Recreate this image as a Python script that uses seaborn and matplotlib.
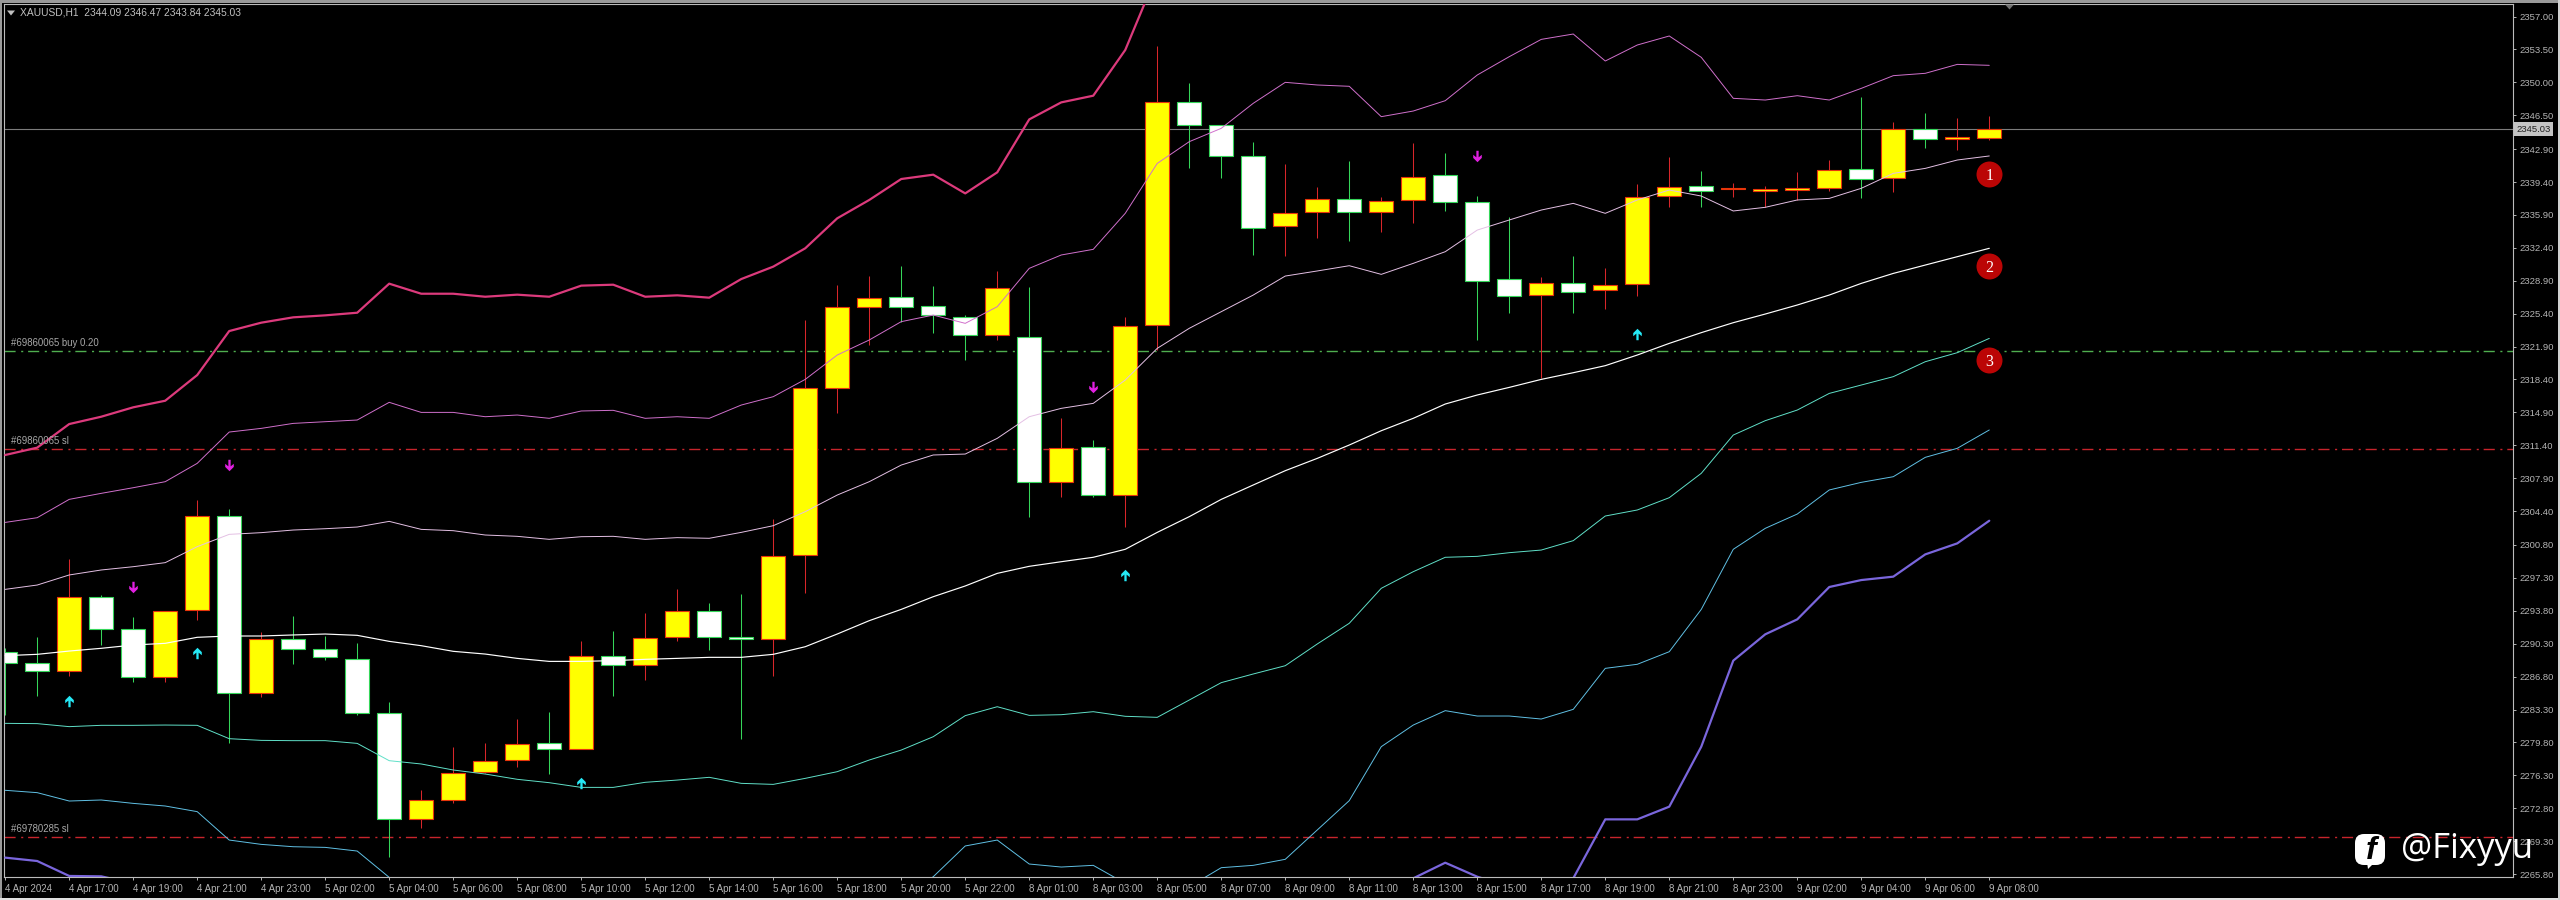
import numpy as np
import pandas as pd
import matplotlib
matplotlib.use("Agg")
import matplotlib.pyplot as plt
from matplotlib.patches import FancyBboxPatch, Rectangle, Polygon
from matplotlib.path import Path
from matplotlib.transforms import IdentityTransform
import seaborn as sns

W, H = 2560, 900
N = None

time_labels = {0: "4 Apr 2024", 2: "4 Apr 17:00", 4: "4 Apr 19:00", 6: "4 Apr 21:00", 8: "4 Apr 23:00",
               10: "5 Apr 02:00", 12: "5 Apr 04:00", 14: "5 Apr 06:00", 16: "5 Apr 08:00", 18: "5 Apr 10:00",
               20: "5 Apr 12:00", 22: "5 Apr 14:00", 24: "5 Apr 16:00", 26: "5 Apr 18:00", 28: "5 Apr 20:00",
               30: "5 Apr 22:00", 32: "8 Apr 01:00", 34: "8 Apr 03:00", 36: "8 Apr 05:00", 38: "8 Apr 07:00",
               40: "8 Apr 09:00", 42: "8 Apr 11:00", 44: "8 Apr 13:00", 46: "8 Apr 15:00", 48: "8 Apr 17:00",
               50: "8 Apr 19:00", 52: "8 Apr 21:00", 54: "8 Apr 23:00", 56: "9 Apr 02:00", 58: "9 Apr 04:00",
               60: "9 Apr 06:00", 62: "9 Apr 08:00"}

price_ticks = [2357.00, 2353.50, 2350.00, 2346.50, 2342.90, 2339.40, 2335.90, 2332.40, 2328.90,
               2325.40, 2321.90, 2318.40, 2314.90, 2311.40, 2307.90, 2304.40, 2300.80, 2297.30,
               2293.80, 2290.30, 2286.80, 2283.30, 2279.80, 2276.30, 2272.80, 2269.30, 2265.80]

# open, high, low, close per hourly bar
opens = [2289.38, 2288.21, 2287.40, 2295.30, 2291.83, 2286.72, 2293.88, 2303.92, 2285.02, 2290.76, 2289.70,
         2288.71, 2282.89, 2271.66, 2273.68, 2276.62, 2277.90, 2279.70, 2279.07, 2289.03, 2288.00, 2290.98,
         2293.81, 2291.05, 2290.76, 2299.70, 2317.46, 2326.14, 2327.13, 2326.18, 2325.08, 2323.13, 2322.95,
         2307.46, 2311.18, 2306.08, 2324.19, 2347.94, 2345.50, 2342.13, 2334.68, 2336.17, 2337.56, 2336.17,
         2337.45, 2340.11, 2337.24, 2329.05, 2327.35, 2328.69, 2327.88, 2328.52, 2337.88, 2338.94, 2338.62,
         2338.44, 2338.55, 2338.73, 2340.82, 2339.79, 2345.07, 2343.94, 2344.09]
closes = [2288.21, 2287.36, 2295.30, 2291.83, 2286.72, 2293.81, 2303.92, 2285.02, 2290.84, 2289.70, 2288.85,
          2282.89, 2271.62, 2273.71, 2276.58, 2277.86, 2279.67, 2279.07, 2289.03, 2288.00, 2290.94, 2293.81,
          2291.05, 2290.76, 2299.66, 2317.46, 2326.14, 2327.10, 2326.07, 2325.22, 2323.09, 2328.16, 2307.46,
          2311.15, 2306.08, 2324.12, 2347.94, 2345.50, 2342.13, 2334.54, 2336.14, 2337.63, 2336.17, 2337.41,
          2339.97, 2337.24, 2328.91, 2327.24, 2328.69, 2327.74, 2328.48, 2337.84, 2338.90, 2338.48, 2338.80,
          2338.65, 2338.76, 2340.71, 2339.68, 2345.07, 2343.94, 2344.15, 2345.03]
highs = [2289.81, 2290.98, 2299.27, 2295.44, 2293.10, 2293.81, 2305.58, 2304.59, 2291.54, 2293.25, 2291.12,
         2290.34, 2284.14, 2274.74, 2279.35, 2279.77, 2282.26, 2283.04, 2290.62, 2291.69, 2293.53, 2296.08,
         2294.66, 2295.59, 2303.56, 2324.72, 2328.41, 2329.40, 2330.50, 2328.38, 2325.25, 2329.94, 2328.27,
         2314.27, 2311.96, 2325.08, 2353.87, 2349.89, 2345.50, 2343.69, 2341.31, 2338.90, 2341.63, 2337.84,
         2343.51, 2342.45, 2337.91, 2335.64, 2329.26, 2331.53, 2330.22, 2339.19, 2342.02, 2340.60, 2339.33,
         2338.97, 2340.46, 2341.74, 2348.41, 2345.82, 2346.70, 2346.17, 2346.47]
lows = [2282.72, 2284.74, 2286.86, 2290.16, 2286.23, 2286.23, 2292.82, 2279.77, 2284.67, 2288.18, 2288.57,
        2282.72, 2267.58, 2270.66, 2273.39, 2276.58, 2277.22, 2276.44, 2279.07, 2284.74, 2286.44, 2290.62,
        2289.63, 2280.20, 2286.86, 2295.73, 2314.80, 2322.07, 2324.55, 2323.38, 2320.47, 2322.60, 2303.74,
        2305.94, 2305.87, 2302.71, 2321.53, 2340.92, 2339.79, 2331.64, 2331.57, 2333.41, 2333.13, 2334.12,
        2335.00, 2336.35, 2322.60, 2325.43, 2318.52, 2325.43, 2325.86, 2327.28, 2336.78, 2336.78, 2337.77,
        2336.71, 2337.49, 2338.44, 2337.66, 2338.37, 2342.98, 2342.80, 2343.84]

band_upper3 = [2310.37, 2311.15, 2313.66, 2314.44, 2315.44, 2316.14, 2318.87, 2323.55, 2324.44, 2325.01, 2325.22,
               2325.50, 2328.59, 2327.52, 2327.52, 2327.20, 2327.42, 2327.20, 2328.38, 2328.48, 2327.20, 2327.35,
               2327.10, 2329.08, 2330.40, 2332.35, 2335.54, 2337.49, 2339.72, 2340.18, 2338.19, 2340.43, 2346.06,
               2347.87, 2348.58, 2353.44, 2361.59] + [N] * 26
band_upper2 = [2303.20, 2303.70, 2305.65, 2306.29, 2306.89, 2307.53, 2309.48, 2312.81, 2313.20, 2313.73, 2313.91,
               2314.09, 2315.97, 2314.90, 2314.90, 2314.44, 2314.62, 2314.27, 2315.05, 2315.12, 2314.27, 2314.44,
               2314.27, 2315.68, 2316.57, 2318.41, 2321.00, 2322.60, 2324.55, 2325.25, 2324.37, 2326.14, 2330.22,
               2331.64, 2332.24, 2336.07, 2341.38, 2343.69, 2345.11, 2347.77, 2350.00, 2349.72, 2349.58, 2346.35,
               2346.95, 2348.05, 2350.78, 2352.73, 2354.57, 2355.14, 2352.27, 2353.97, 2354.93, 2352.66, 2348.30,
               2348.12, 2348.58, 2348.12, 2349.36, 2350.71, 2350.96, 2351.91, 2351.81]
band_upper1 = [2296.08, 2296.54, 2297.61, 2298.14, 2298.49, 2298.92, 2300.62, 2301.93, 2302.11, 2302.39, 2302.53,
               2302.71, 2303.31, 2302.46, 2302.32, 2301.86, 2301.72, 2301.40, 2301.68, 2301.72, 2301.40, 2301.58,
               2301.51, 2302.14, 2302.85, 2304.34, 2306.11, 2307.53, 2309.30, 2310.37, 2310.47, 2312.14, 2314.44,
               2315.33, 2315.86, 2318.34, 2321.71, 2323.84, 2325.61, 2327.38, 2329.40, 2329.94, 2330.50, 2329.58,
               2330.75, 2331.99, 2334.29, 2335.36, 2336.42, 2337.13, 2336.07, 2337.49, 2338.55, 2337.91, 2336.32,
               2336.71, 2337.49, 2337.66, 2338.73, 2340.32, 2340.85, 2341.74, 2342.17]
band_middle = [2289.03, 2289.17, 2289.52, 2289.81, 2290.16, 2290.34, 2290.98, 2291.12, 2291.12, 2291.23, 2291.33,
               2291.19, 2290.55, 2290.09, 2289.49, 2289.20, 2288.74, 2288.42, 2288.42, 2288.50, 2288.64, 2288.74,
               2288.85, 2288.85, 2289.17, 2289.98, 2291.33, 2292.75, 2293.95, 2295.30, 2296.44, 2297.78, 2298.53,
               2299.02, 2299.49, 2300.34, 2302.14, 2303.81, 2305.65, 2307.18, 2308.70, 2310.01, 2311.43, 2312.95,
               2314.27, 2315.79, 2316.75, 2317.56, 2318.41, 2319.12, 2319.87, 2321.00, 2322.24, 2323.38, 2324.44,
               2325.36, 2326.32, 2327.38, 2328.62, 2329.68, 2330.57, 2331.46, 2332.35]
band_lower1 = [2281.83, 2281.80, 2281.48, 2281.62, 2281.62, 2281.65, 2281.62, 2280.20, 2280.02, 2279.99, 2279.99,
               2279.70, 2277.86, 2277.51, 2276.87, 2276.44, 2275.88, 2275.52, 2275.02, 2275.02, 2275.56, 2275.80,
               2276.09, 2275.45, 2275.34, 2275.98, 2276.69, 2277.93, 2278.99, 2280.41, 2282.65, 2283.60, 2282.68,
               2282.75, 2283.07, 2282.58, 2282.47, 2284.31, 2286.16, 2287.08, 2287.96, 2290.27, 2292.47, 2296.19,
               2297.96, 2299.49, 2299.59, 2299.98, 2300.26, 2301.26, 2303.88, 2304.52, 2305.83, 2308.42, 2312.49,
               2314.02, 2315.15, 2316.92, 2317.81, 2318.70, 2320.29, 2321.25, 2322.77]
band_lower2 = [2274.71, 2274.46, 2273.57, 2273.68, 2273.32, 2273.04, 2272.44, 2269.42, 2268.96, 2268.71, 2268.64,
               2268.25, 2265.45, 2263.40] + [N] * 14 + [2263.22, 2265.52, 2268.79, 2269.42, 2266.87,
               2266.55, 2266.73, 2264.81, 2264.11, 2264.46, 2266.48, 2266.73, 2267.37, 2270.49, 2273.61, 2279.35,
               2281.65, 2283.18, 2282.61, 2282.61, 2282.29, 2283.32, 2287.68, 2288.11, 2289.45, 2293.95, 2300.34,
               2302.57, 2304.09, 2306.65, 2307.46, 2308.06, 2310.12, 2311.08, 2313.03]
band_lower3 = [2267.55, 2267.19, 2265.60, 2265.56, 2264.81] + [N] * 39 + [2265.35, 2267.01, 2265.52, 2264.46,
               2264.11, 2265.35, 2271.62, 2271.62, 2272.97, 2279.35, 2288.50, 2291.30, 2292.89, 2296.33, 2297.07,
               2297.43, 2299.80, 2300.97, 2303.38]

down_arrow_bars = [4, 7, 34, 46]
down_arrow_prices = [2296.29, 2309.30, 2317.63, 2342.20]
up_arrow_bars = [2, 6, 18, 35, 51]
up_arrow_prices = [2284.24, 2289.35, 2275.52, 2297.61, 2323.23]

last_price = 2345.03
order_levels = [2321.39, 2310.97, 2269.71]
order_labels = ["#69860065 buy 0.20", "#69860065 sl", "#69780285 sl"]
order_colors = ["#4fae4f", "#c8242c", "#c8242c"]

badge_bars = [62, 62, 62]
badge_prices = [2340.28, 2330.47, 2320.47]
badge_labels = ["1", "2", "3"]

header = "XAUUSD,H1  2344.09 2346.47 2343.84 2345.03"
watermark = "@Fixyyu"

sns.set_theme(style="dark", rc={"axes.facecolor": "black", "figure.facecolor": "black"})
plt.rcParams["font.family"] = ["Liberation Sans"]
GREY = "#b4b4b4"

fig = plt.figure(figsize=(W / 100, H / 100), dpi=100, facecolor="black")
ax = fig.add_axes([4 / W, 1 - 877 / H, 2508.5 / W, 872.7 / H])
ax.set_facecolor("black")
ax.set_xlim(-0.0375, 78.35)
ax.set_ylim(2265.49, 2358.30)

bars = np.arange(len(opens))
o, c, hi, lo = map(np.array, (opens, closes, highs, lows))
up = c >= o
ax.vlines(bars[up], lo[up], hi[up], color="#d8262a", lw=0.75, zorder=2)
ax.vlines(bars[~up], lo[~up], hi[~up], color="#35d65a", lw=0.75, zorder=2)
ax.bar(bars[up], (c - o)[up], bottom=o[up], width=0.74, color="#ffff00", edgecolor="#e8350a", linewidth=0.8, zorder=2.5)
ax.bar(bars[~up], (o - c)[~up], bottom=c[~up], width=0.74, color="#ffffff", edgecolor="#35d65a", linewidth=0.8, zorder=2.5)

bands = [("upper3", band_upper3, "#dc3a7c", 1.6), ("upper2", band_upper2, "#d070cc", 0.7),
         ("upper1", band_upper1, "#e4c0e4", 0.7), ("middle", band_middle, "#ffffff", 0.85),
         ("lower1", band_lower1, "#60e0c8", 0.7), ("lower2", band_lower2, "#60c0e4", 0.7),
         ("lower3", band_lower3, "#7a66dc", 1.6)]
for name, values, color, width in bands:
    frame = pd.DataFrame({"bar": bars, "price": pd.to_numeric(pd.Series(values), errors="coerce")})
    sns.lineplot(data=frame, x="bar", y="price", color=color, linewidth=width, estimator=None,
                 sort=False, ax=ax, zorder=3)

ax.axhline(last_price, color="#7c7c7c", lw=0.8, zorder=1)
for level, label, color in zip(order_levels, order_labels, order_colors):
    ax.axhline(level, color=color, lw=1.0, linestyle=(0, (8, 4, 1.5, 3.5)), zorder=1)
    ax.annotate(label, xy=(0, level), xycoords=("axes fraction", "data"), xytext=(7, 3),
                textcoords="offset pixels", color="#a8a8a8", fontsize=6.9, va="bottom", zorder=4)

up_shape = Path([(-0.2, -1), (0.2, -1), (0.2, 0.15), (0.75, -0.3), (0.75, 0.25), (0, 1),
                 (-0.75, 0.25), (-0.75, -0.3), (-0.2, 0.15), (-0.2, -1)], closed=True)
down_shape = Path(up_shape.vertices * np.array([1, -1]), closed=True)
ax.scatter(down_arrow_bars, down_arrow_prices, marker=down_shape, s=68, color="#e020e0", linewidths=0, zorder=4)
ax.scatter(up_arrow_bars, up_arrow_prices, marker=up_shape, s=68, color="#25e8f5", linewidths=0, zorder=4)

ax.scatter(badge_bars, badge_prices, s=350, color="#bb0505", linewidths=0, zorder=5)
for bar, price, label in zip(badge_bars, badge_prices, badge_labels):
    ax.text(bar, price, label, color="white", fontsize=11.5, family="Liberation Serif",
            ha="center", va="center_baseline", zorder=6)

ax.set_xlabel("")
ax.set_ylabel("")
ax.grid(False)
ax.yaxis.tick_right()
ax.set_yticks(price_ticks, [f"{v:.2f}" for v in price_ticks])
ax.set_xticks(list(time_labels), list(time_labels.values()))
ax.tick_params(axis="y", length=2.5, width=0.7, color=GREY, labelcolor=GREY, labelsize=6.8, pad=2.5, right=True)
ax.tick_params(axis="x", length=2.5, width=0.7, color=GREY, labelcolor=GREY, labelsize=7.0, pad=2.5, bottom=True)
for t in ax.get_xticklabels():
    t.set_ha("left")
for s in ax.spines.values():
    s.set_color("#bcbcbc")
    s.set_linewidth(0.8)

# current price tag on the price axis
ax.annotate(f"{last_price:.2f}", xy=(1, last_price), xycoords=("axes fraction", "data"), xytext=(21, 0),
            textcoords="offset pixels", color="#202020", fontsize=6.8, ha="center", va="center",
            bbox=dict(boxstyle="square,pad=0.25", fc="#c4c4c4", ec="none"), annotation_clip=False, zorder=7)

fig.text(20 / W, 1 - 12.5 / H, header, color="#c0c0c0", fontsize=7.4, va="center")
# window chrome
T = IdentityTransform()
fig.add_artist(Polygon([(7, H - 10.5), (15, H - 10.5), (11, H - 15.5)], closed=True, transform=T, color="#c0c0c0", lw=0))
fig.add_artist(Polygon([(2005, H - 4.5), (2014, H - 4.5), (2009.5, H - 9.5)], closed=True, transform=T, color="#707070", lw=0))
fig.add_artist(Rectangle((0, H - 3), W, 3, transform=T, color="#9a9a9a", lw=0))
fig.add_artist(Rectangle((0, 0), 1.5, H, transform=T, color="#9a9a9a", lw=0))
fig.add_artist(Rectangle((0, 0), W, 2, transform=T, color="#e0e0e0", lw=0))
fig.add_artist(Rectangle((W - 2, 0), 2, H, transform=T, color="#d0d0d0", lw=0))

# watermark
fig.add_artist(FancyBboxPatch((2355, H - 865), 30, 31, boxstyle="round,pad=0,rounding_size=9", transform=T,
                              fc="white", ec="none", zorder=8))
fig.add_artist(Polygon([(2367, H - 862), (2375, H - 862), (2368, H - 869)], closed=True, transform=T, color="white", lw=0, zorder=8))
fig.text(2371 / W, 1 - 851 / H, "f", color="black", fontsize=23, fontweight="bold", style="italic",
         family="Liberation Sans", ha="center", va="center", zorder=9)
fig.text(2401 / W, 1 - 849 / H, watermark, color="white", fontsize=25, family="Open Sans", va="center", zorder=9)

fig.savefig("out.png", dpi=100, facecolor="black")
